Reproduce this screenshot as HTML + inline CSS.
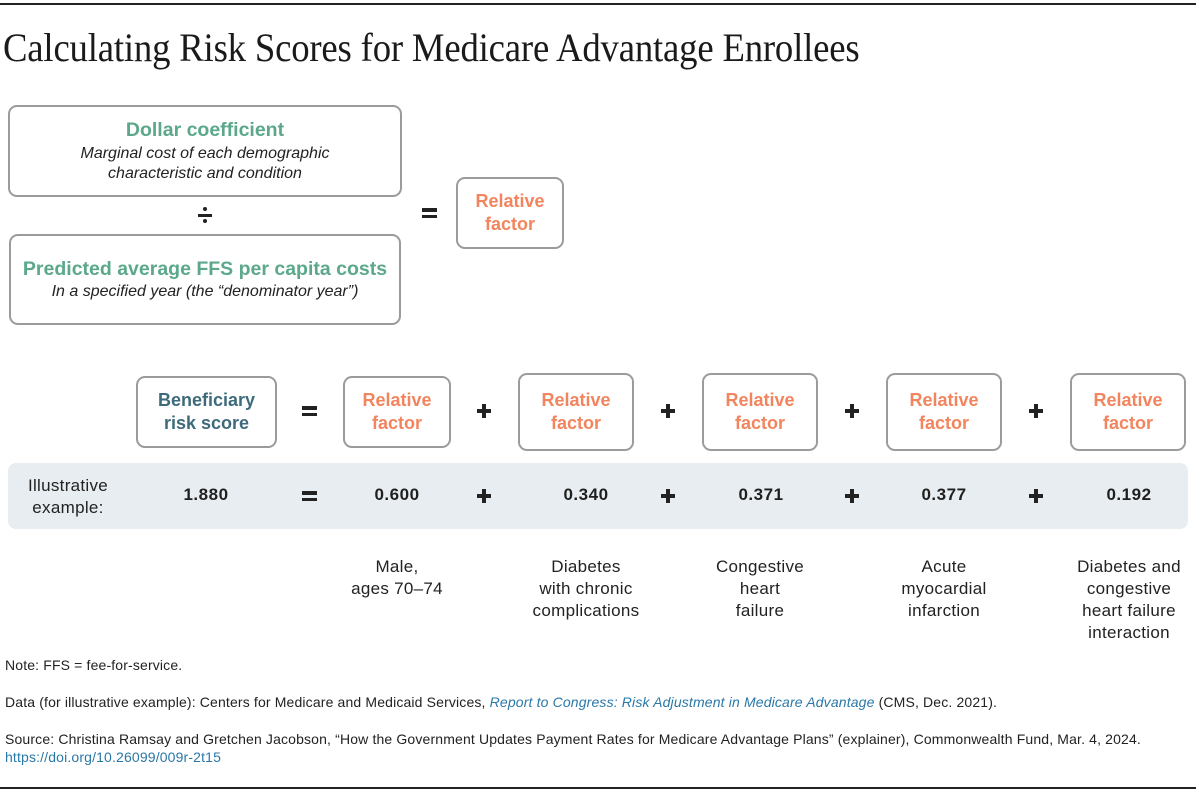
<!DOCTYPE html>
<html><head><meta charset="utf-8">
<style>
*{margin:0;padding:0;box-sizing:border-box}
body{width:1196px;height:800px;background:#fff;position:relative;overflow:hidden;font-family:"Liberation Sans",Arial,sans-serif;color:#1f1f1f}
.abs{position:absolute}
.hr{position:absolute;left:0;width:1196px;height:2px;background:#222}
.title{position:absolute;left:3px;top:28px;font-family:"Liberation Serif",serif;font-size:40px;line-height:40px;color:#1a1a1a;white-space:nowrap;transform:scaleX(0.918);transform-origin:left top;letter-spacing:-0.2px}
.box{position:absolute;border:2px solid #9b9b9b;border-radius:9px;background:#fff;display:flex;flex-direction:column;align-items:center;justify-content:center;text-align:center}
.g{color:#5ba88a;font-weight:bold;font-size:19.5px;line-height:22px}
.it{font-style:italic;font-size:16px;line-height:20px;color:#222}
.o{color:#f2845e;font-weight:bold;font-size:18px;line-height:23px}
.b{color:#3e6b7b;font-weight:bold;font-size:18px;line-height:23px}
.eq{position:absolute;width:15px;height:10px}
.eq:before,.eq:after{content:"";position:absolute;left:0;width:15px;height:3.5px;background:#222}
.eq:before{top:0}.eq:after{bottom:0}
.pl{position:absolute;width:14px;height:14px}
.pl:before{content:"";position:absolute;left:0;top:5px;width:14px;height:4px;background:#222}
.pl:after{content:"";position:absolute;left:5px;top:0;width:4px;height:14px;background:#222}
.band{position:absolute;left:8px;top:463px;width:1180px;height:66px;background:#e7edf0;border-radius:8px}
.ctr{position:absolute;transform:translateX(-50%);text-align:center;white-space:nowrap}
.val{font-weight:bold;font-size:17px;line-height:22px;letter-spacing:0.5px;color:#1f1f1f}
.lbl{font-size:17px;line-height:22px;letter-spacing:0.3px;color:#222}
.foot{position:absolute;left:5px;font-size:14px;line-height:18px;letter-spacing:0.15px;color:#222;white-space:nowrap}
.lnk{color:#2a78a8}
</style></head><body>
<div class="hr" style="top:3px"></div>
<div class="title">Calculating Risk Scores for Medicare Advantage Enrollees</div>

<div class="box" style="left:8px;top:105px;width:394px;height:92px;justify-content:flex-start;padding-top:12px">
  <div class="g">Dollar coefficient</div>
  <div class="it" style="margin-top:3px">Marginal cost of each demographic<br>characteristic and condition</div>
</div>
<!-- divide sign -->
<div class="abs" style="left:198px;top:207px;width:14px;height:16px">
  <div class="abs" style="left:5px;top:0;width:4px;height:4px;border-radius:2px;background:#222"></div>
  <div class="abs" style="left:0;top:6.5px;width:14px;height:3px;background:#222"></div>
  <div class="abs" style="left:5px;top:12px;width:4px;height:4px;border-radius:2px;background:#222"></div>
</div>
<div class="box" style="left:9px;top:234px;width:392px;height:91px;justify-content:flex-start;padding-top:22px">
  <div class="g">Predicted average FFS per capita costs</div>
  <div class="it" style="margin-top:2px">In a specified year (the “denominator year”)</div>
</div>
<div class="eq" style="left:422px;top:208px"></div>
<div class="box" style="left:456px;top:177px;width:108px;height:72px">
  <div class="o">Relative<br>factor</div>
</div>

<!-- second row -->
<div class="box" style="left:136px;top:376px;width:141px;height:72px">
  <div class="b">Beneficiary<br>risk score</div>
</div>
<div class="eq" style="left:302px;top:406px"></div>
<div class="box" style="left:343px;top:376px;width:108px;height:72px"><div class="o">Relative<br>factor</div></div>
<div class="pl" style="left:477px;top:404px"></div>
<div class="box" style="left:518px;top:373px;width:116px;height:78px"><div class="o">Relative<br>factor</div></div>
<div class="pl" style="left:661px;top:404px"></div>
<div class="box" style="left:702px;top:373px;width:116px;height:78px"><div class="o">Relative<br>factor</div></div>
<div class="pl" style="left:845px;top:404px"></div>
<div class="box" style="left:886px;top:373px;width:116px;height:78px"><div class="o">Relative<br>factor</div></div>
<div class="pl" style="left:1029px;top:404px"></div>
<div class="box" style="left:1070px;top:373px;width:116px;height:78px"><div class="o">Relative<br>factor</div></div>

<div class="band"></div>
<div class="ctr lbl" style="left:68px;top:475px">Illustrative<br>example:</div>
<div class="ctr val" style="left:206px;top:484px">1.880</div>
<div class="eq" style="left:302px;top:491px"></div>
<div class="ctr val" style="left:397px;top:484px">0.600</div>
<div class="pl" style="left:477px;top:489px"></div>
<div class="ctr val" style="left:586px;top:484px">0.340</div>
<div class="pl" style="left:661px;top:489px"></div>
<div class="ctr val" style="left:761px;top:484px">0.371</div>
<div class="pl" style="left:845px;top:489px"></div>
<div class="ctr val" style="left:944px;top:484px">0.377</div>
<div class="pl" style="left:1029px;top:489px"></div>
<div class="ctr val" style="left:1129px;top:484px">0.192</div>

<div class="ctr lbl" style="left:397px;top:556px">Male,<br>ages 70–74</div>
<div class="ctr lbl" style="left:586px;top:556px">Diabetes<br>with chronic<br>complications</div>
<div class="ctr lbl" style="left:760px;top:556px">Congestive<br>heart<br>failure</div>
<div class="ctr lbl" style="left:944px;top:556px">Acute<br>myocardial<br>infarction</div>
<div class="ctr lbl" style="left:1129px;top:556px">Diabetes and<br>congestive<br>heart failure<br>interaction</div>

<div class="foot" style="top:656px">Note: FFS = fee-for-service.</div>
<div class="foot" style="top:693px">Data (for illustrative example): Centers for Medicare and Medicaid Services, <i class="lnk">Report to Congress: Risk Adjustment in Medicare Advantage</i> (CMS, Dec. 2021).</div>
<div class="foot" style="top:730px">Source: Christina Ramsay and Gretchen Jacobson, “How the Government Updates Payment Rates for Medicare Advantage Plans” (explainer), Commonwealth Fund, Mar. 4, 2024.<br><span class="lnk">https://doi.org/10.26099/009r-2t15</span></div>

<div class="hr" style="top:787px"></div>
</body></html>
